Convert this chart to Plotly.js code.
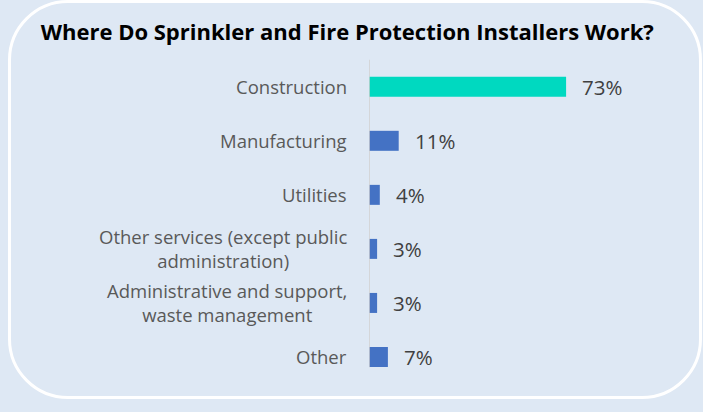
<!DOCTYPE html>
<html>
<head>
<meta charset="utf-8">
<script src="https://cdn.plot.ly/plotly-3.0.1.min.js"></script>
<style>
  html, body { margin:0; padding:0; background:#dee8f4; }
  #frame { position:absolute; left:8px; top:0px; width:688px; height:393px; border:3px solid #ffffff; border-radius:60px; }
  #chart { position:absolute; left:0; top:0; width:703px; height:412px; }
</style>
</head>
<body>
<div id="frame"></div>
<div id="chart"></div>
<script>
const categories = ["Construction", "Manufacturing", "Utilities",
  "Other services (except public<br>administration)",
  "Administrative and support,<br>waste management", "Other"];
const values = [73, 11, 4, 3, 3, 7];
const valueLabels = ["73%", "11%", "4%", "3%", "3%", "7%"];
const barColors = ["#00d9c0", "#4472c4", "#4472c4", "#4472c4", "#4472c4", "#4472c4"];
const chartTitle = "Where Do Sprinkler and Fire Protection Installers Work?";

const ids = categories.map((c, i) => "c" + i);

const trace = {
  type: "bar",
  orientation: "h",
  y: ids,
  x: values,
  marker: { color: barColors },
  hoverinfo: "skip"
};

const annotations = [];
categories.forEach((c, i) => {
  annotations.push({
    xref: "x", yref: "y", x: 0, y: ids[i], text: c,
    xanchor: "right", yanchor: "middle", align: "center", xshift: -20,
    showarrow: false, font: { family: "Open Sans, sans-serif", size: 18.5, color: "#595959" }
  });
  annotations.push({
    xref: "x", yref: "y", x: values[i], y: ids[i], text: valueLabels[i],
    xanchor: "left", yanchor: "middle", xshift: 14,
    showarrow: false, font: { family: "Open Sans, sans-serif", size: 20.5, color: "#404040" }
  });
});

const layout = {
  width: 703, height: 412,
  paper_bgcolor: "rgba(0,0,0,0)", plot_bgcolor: "rgba(0,0,0,0)",
  margin: { l: 369, r: 64, t: 59, b: 28 },
  title: {
    text: "<b>" + chartTitle + "</b>",
    xref: "container", yref: "container", x: 0.494, y: 1 - 32/412,
    xanchor: "center", yanchor: "middle",
    font: { family: "Open Sans, sans-serif", size: 22, color: "#000000" }
  },
  xaxis: { range: [0, 100], visible: false, fixedrange: true },
  yaxis: { type: "category", autorange: "reversed", showticklabels: false,
           showgrid: false, zeroline: false, showline: false, fixedrange: true },
  bargap: 0.63,
  showlegend: false,
  annotations: annotations,
  shapes: [{
    type: "line", xref: "x", yref: "y", x0: 0, x1: 0, y0: -0.5, y1: 5.19,
    line: { color: "#d0d0d0", width: 1.5 }
  }]
};

Plotly.newPlot("chart", [trace], layout, { displayModeBar: false, staticPlot: true });
</script>
</body>
</html>
